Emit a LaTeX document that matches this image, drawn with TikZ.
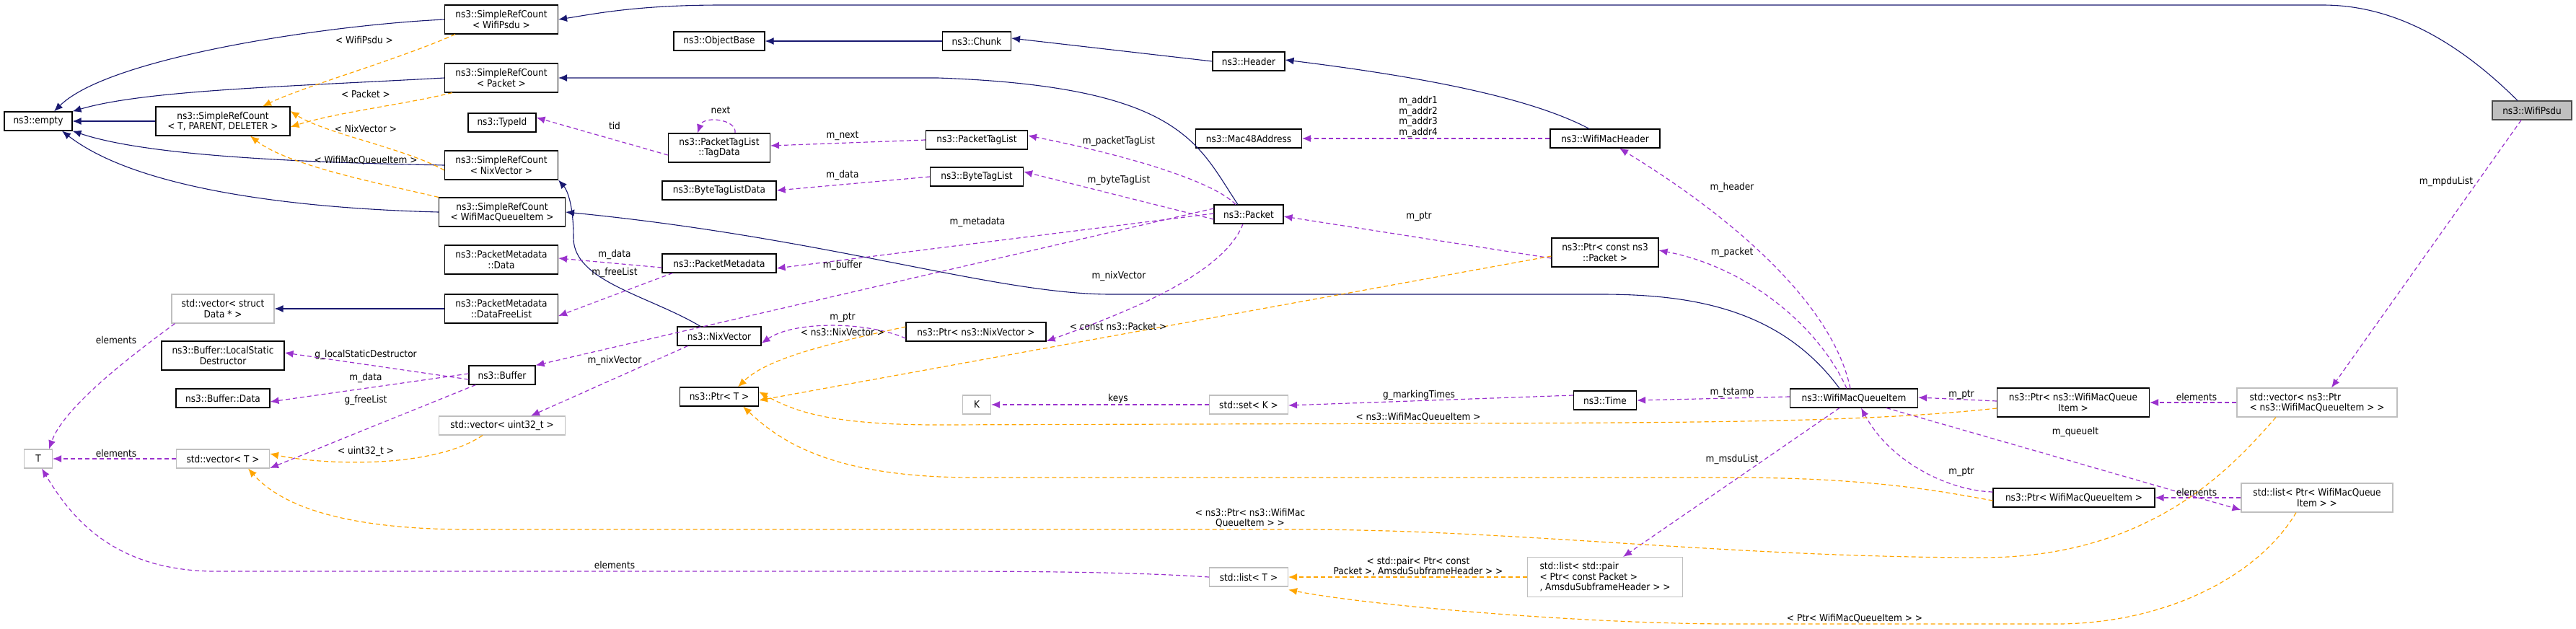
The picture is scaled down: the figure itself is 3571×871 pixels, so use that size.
\documentclass[tikz,border=0pt]{standalone}
\usepackage{fontspec}
\setmainfont{DejaVu Sans Condensed}
\usetikzlibrary{arrows.meta}
\definecolor{navy}{HTML}{191970}
\definecolor{purp}{HTML}{9A32CD}
\definecolor{orng}{HTML}{FFA500}
\definecolor{gbd}{HTML}{BFBFBF}
\newcommand{\nf}{\fontsize{13.5}{14.5}\selectfont}
\tikzset{
 box/.style={draw=black, fill=white, minimum height=26pt, inner sep=1pt, font=\nf, line width=1.1pt, align=center},
 ext/.style={box, draw=gbd},
 two/.style={minimum height=40pt},
 inh/.style={draw=navy, line width=1.1pt, -{Latex[length=12pt,width=10pt]}},
 mem/.style={draw=purp, line width=1.2pt, dash pattern=on 6pt off 4pt, -{Latex[length=12pt,width=10pt]}},
 tpl/.style={draw=orng, line width=1.2pt, dash pattern=on 6pt off 4pt, -{Latex[length=12pt,width=10pt]}},
 lbl/.style={font=\nf, inner sep=0pt, align=center}
}
\begin{document}
\begin{tikzpicture}[x=1pt,y=-1pt]
\useasboundingbox (0,0) rectangle (3571,871);
% nodes
\node[box,minimum width=94] (empty) at (53,168) {ns3::empty};
\node[box,two,minimum width=186] (srcT) at (309,168) {ns3::SimpleRefCount\\< T, PARENT, DELETER >};
\node[box,two,minimum width=157] (srcPsdu) at (695,27) {ns3::SimpleRefCount\\< WifiPsdu >};
\node[box,two,minimum width=157] (srcPkt) at (695,108) {ns3::SimpleRefCount\\< Packet >};
\node[box,minimum width=94] (typeid) at (696,170) {ns3::TypeId};
\node[box,two,minimum width=157] (srcNix) at (695,229) {ns3::SimpleRefCount\\< NixVector >};
\node[box,two,minimum width=175] (srcWmqi) at (696,294) {ns3::SimpleRefCount\\< WifiMacQueueItem >};
\node[box,two,minimum width=157] (pmData) at (695,360) {ns3::PacketMetadata\\::Data};
\node[box,two,minimum width=157] (pmFree) at (695,428) {ns3::PacketMetadata\\::DataFreeList};
\node[ext,two,minimum width=142] (vecData) at (309,428) {std::vector< struct\\Data * >};
\node[box,two,minimum width=170] (lsd) at (309,493) {ns3::Buffer::LocalStatic\\Destructor};
\node[box,minimum width=130] (bufData) at (309,552) {ns3::Buffer::Data};
\node[box,minimum width=92] (buffer) at (696,520) {ns3::Buffer};
\node[ext,minimum width=175] (vecU32) at (696,590) {std::vector< uint32\_t >};
\node[ext,minimum width=39] (T) at (53,636) {T};
\node[ext,minimum width=129] (vecT) at (309,636) {std::vector< T >};
\node[box,minimum width=126] (objbase) at (997,57) {ns3::ObjectBase};
\node[box,minimum width=95] (chunk) at (1354,57) {ns3::Chunk};
\node[box,minimum width=100] (header) at (1731,85) {ns3::Header};
\node[box,two,minimum width=141] (tagdata) at (997,205) {ns3::PacketTagList\\::TagData};
\node[box,minimum width=141] (ptaglist) at (1354,194) {ns3::PacketTagList};
\node[box,minimum width=158] (btldata) at (997,264) {ns3::ByteTagListData};
\node[box,minimum width=129] (btaglist) at (1354,245) {ns3::ByteTagList};
\node[box,minimum width=147] (mac48) at (1731,192) {ns3::Mac48Address};
\node[box,minimum width=96] (packet) at (1731,297) {ns3::Packet};
\node[box,minimum width=158] (pmeta) at (997,365) {ns3::PacketMetadata};
\node[box,minimum width=116] (nixvec) at (997,466) {ns3::NixVector};
\node[box,minimum width=194] (ptrNix) at (1353,460) {ns3::Ptr< ns3::NixVector >};
\node[box,minimum width=109] (ptrT) at (997,550) {ns3::Ptr< T >};
\node[ext,minimum width=39] (K) at (1354,561) {K};
\node[ext,minimum width=109] (setK) at (1731,561) {std::set< K >};
\node[ext,minimum width=109] (listT) at (1731,800) {std::list< T >};
\node[box,minimum width=152] (wmh) at (2225,192) {ns3::WifiMacHeader};
\node[box,two,minimum width=148] (ptrCPkt) at (2225,350) {ns3::Ptr< const ns3\\::Packet >};
\node[box,minimum width=87] (time) at (2225,555) {ns3::Time};
\node[box,minimum width=177] (wmqi) at (2570,552) {ns3::WifiMacQueueItem};
\node[box,two,minimum width=211] (ptrNsW) at (2874,558) {ns3::Ptr< ns3::WifiMacQueue\\Item >};
\node[box,minimum width=224] (ptrW) at (2875,690) {ns3::Ptr< WifiMacQueueItem >};
\node[ext,two,minimum width=222,align=left] (vecPtr) at (3212,558) {std::vector< ns3::Ptr\\< ns3::WifiMacQueueItem > >};
\node[ext,two,minimum width=210] (listPtr) at (3212,690) {std::list< Ptr< WifiMacQueue\\Item > >};
\node[ext,minimum height=55,minimum width=215,align=left] (pair) at (2225,800) {std::list< std::pair\\< Ptr< const Packet >\\, AmsduSubframeHeader > >};
\node[box,minimum width=110,fill=gbd,draw=black!70] (psdu) at (3510,153) {ns3::WifiPsdu};
% inheritance
\draw[inh] (srcPsdu.west) .. controls (450,35) and (150,80) .. ([xshift=22]empty.north);
\draw[inh] (srcPkt.west) .. controls (400,120) and (200,125) .. (empty.north east);
\draw[inh] (srcT.west) -- (empty.east);
\draw[inh] (srcNix.west) .. controls (400,225) and (200,215) .. (empty.south east);
\draw[inh] (srcWmqi.west) .. controls (450,290) and (200,270) .. ([xshift=33]empty.south);
\draw[inh] (pmFree.west) -- (vecData.east);
\draw[inh] (chunk.west) -- (objbase.east);
\draw[inh] (header.west) -- ([yshift=4]chunk.east);
\draw[inh] ([xshift=-22]wmh.north) .. controls (2130,140) and (2000,110) .. ([yshift=2]header.east);
\draw[inh] ([xshift=-20]psdu.north) .. controls (3390,40) and (3300,7) .. (3220,7) -- (1000,7) .. controls (880,7) and (820,20) .. (srcPsdu.east);
\draw[inh] ([xshift=-15]packet.north) .. controls (1660,200) and (1640,120) .. (1300,108) -- (srcPkt.east);
\draw[inh] ([xshift=-26]nixvec.north) .. controls (900,410) and (795,390) .. (795,330) .. controls (795,280) and (785,262) .. (srcNix.south east);
\draw[inh] ([xshift=-20]wmqi.north) .. controls (2470,430) and (2350,408) .. (2220,408) -- (1540,408) .. controls (1380,408) and (1150,330) .. (srcWmqi.east);
% members
\draw[mem] ([yshift=-10]tagdata.west) -- ([yshift=7]typeid.east);
\draw[mem] ([xshift=22]tagdata.north) .. controls (1022,165) and (975,160) .. ([xshift=-30]tagdata.north);
\draw[mem] (ptaglist.west) -- ([yshift=3]tagdata.east);
\draw[mem] (btaglist.west) -- (btldata.east);
\draw[mem] ([xshift=-18]packet.north) .. controls (1680,250) and (1560,215) .. ([yshift=6]ptaglist.east);
\draw[mem] ([yshift=-7]packet.west) -- ([yshift=7]btaglist.east);
\draw[mem] ([yshift=1]packet.west) -- ([yshift=-7]pmeta.east);
\draw[mem] ([yshift=8]packet.west) -- (buffer.north east);
\draw[mem] ([xshift=-8]packet.south) .. controls (1700,370) and (1600,420) .. ([yshift=-13]ptrNix.east);
\draw[mem] ([yshift=-6]pmeta.west) -- ([yshift=2]pmData.east);
\draw[mem] ([xshift=15]pmeta.south west) -- ([yshift=-10]pmFree.east);
\draw[mem] ([xshift=5]vecData.south west) .. controls (200,480) and (90,560) .. ([xshift=15]T.north);
\draw[mem] ([yshift=-6]buffer.west) -- ([yshift=4]lsd.east);
\draw[mem] ([yshift=2]buffer.west) -- ([yshift=-5]bufData.east);
\draw[mem] ([xshift=10]buffer.south west) -- ([yshift=-13]vecT.east);
\draw[mem] (vecT.west) -- (T.east);
\draw[mem] ([xshift=15]nixvec.south west) -- ([xshift=40]vecU32.north);
\draw[mem] ([yshift=-9]ptrNix.west) .. controls (1200,445) and (1100,445) .. ([yshift=-10]nixvec.east);
\draw[mem] (setK.west) -- (K.east);
\draw[mem] ([yshift=7]time.west) -- ([yshift=-1]setK.east);
\draw[mem] ([yshift=2]wmqi.west) -- (time.east);
\draw[mem] ([xshift=-10]wmqi.north) .. controls (2520,450) and (2420,370) .. ([yshift=3]ptrCPkt.east);
\draw[mem] ([xshift=-5]wmqi.north) .. controls (2540,420) and (2400,300) .. ([xshift=20]wmh.south);
\draw[mem] ([yshift=-8]ptrCPkt.west) -- ([yshift=-3]packet.east);
\draw[mem] (wmh.west) -- (mac48.east);
\draw[mem] ([yshift=2]ptrNsW.west) -- ([yshift=1]wmqi.east);
\draw[mem] ([yshift=8]ptrW.west) .. controls (2700,680) and (2620,640) .. ([xshift=10]wmqi.south);
\draw[mem] ([xshift=45]wmqi.south) -- ([yshift=-17]listPtr.west);
\draw[mem] ([xshift=-20]wmqi.south) -- ([xshift=25]pair.north);
\draw[mem] (vecPtr.west) -- (ptrNsW.east);
\draw[mem] (listPtr.west) -- (ptrW.east);
\draw[mem] ([xshift=-15]psdu.south) -- ([xshift=20]vecPtr.north);
\draw[mem] (listT.west) .. controls (1600,795) and (1500,792) .. (1300,792) -- (300,792) .. controls (160,792) and (100,720) .. ([xshift=5]T.south);
% templates
\draw[tpl] ([xshift=15]srcPsdu.south west) .. controls (560,80) and (420,120) .. ([xshift=55]srcT.north);
\draw[tpl] ([xshift=11]srcPkt.south west) .. controls (560,145) and (470,155) .. ([yshift=-8]srcT.east);
\draw[tpl] ([yshift=-7]srcNix.west) .. controls (560,205) and (450,185) .. ([yshift=14]srcT.east);
\draw[tpl] ([xshift=0]srcWmqi.north west) .. controls (530,255) and (400,230) .. ([xshift=38]srcT.south);
\draw[tpl] ([xshift=-27]vecU32.south) .. controls (600,650) and (450,645) .. ([yshift=7]vecT.east);
\draw[tpl] ([yshift=7]ptrNix.west) .. controls (1130,480) and (1060,500) .. ([xshift=26]ptrT.north);
\draw[tpl] ([yshift=-5]ptrCPkt.west) -- ([yshift=-5]ptrT.east);
\draw[tpl] ([yshift=-8]ptrNsW.west) .. controls (2600,584) and (2400,586) .. (2000,587) -- (1300,589) .. controls (1150,589) and (1100,570) .. ([yshift=7]ptrT.east);
\draw[tpl] ([yshift=-4]ptrW.west) .. controls (2700,683) and (2600,662) .. (2400,662) -- (1350,662) .. controls (1150,662) and (1080,610) .. ([xshift=33]ptrT.south);
\draw[tpl] ([xshift=-57]vecPtr.south) .. controls (3100,640) and (2990,772) .. (2750,773) .. controls (2400,773) and (2100,734) .. (1800,734) -- (650,734) .. controls (450,734) and (380,690) .. ([xshift=35]vecT.south);
\draw[tpl] ([xshift=-29]listPtr.south) .. controls (3130,800) and (3000,865) .. (2850,865) -- (2400,865) .. controls (2200,865) and (1900,840) .. ([yshift=-4]listT.south east);
\draw[tpl] (pair.west) -- (listT.east);
% labels
\node[lbl] (l1) at (505,55) {< WifiPsdu >};
\node[lbl] (l2) at (507,130) {< Packet >};
\node[lbl] (l3) at (507,178) {< NixVector >};
\node[lbl] (l4) at (507,222) {< WifiMacQueueItem >};
\node[lbl] (l5) at (852,174) {tid};
\node[lbl] (l6) at (852,353) {m\_data};
\node[lbl] (l7) at (852,378) {m\_freeList};
\node[lbl] (l8) at (161,471) {elements};
\node[lbl] (l9) at (507,492) {g\_localStaticDestructor};
\node[lbl] (l10) at (507,524) {m\_data};
\node[lbl] (l11) at (507,555) {g\_freeList};
\node[lbl] (l12) at (852,500) {m\_nixVector};
\node[lbl] (l13) at (161,628) {elements};
\node[lbl] (l14) at (507,626) {< uint32\_t >};
\node[lbl] (l15) at (852,783) {elements};
\node[lbl] (l16) at (999,153) {next};
\node[lbl] (l17) at (1168,188) {m\_next};
\node[lbl] (l18) at (1168,243) {m\_data};
\node[lbl] (l19) at (1551,196) {m\_packetTagList};
\node[lbl] (l20) at (1551,250) {m\_byteTagList};
\node[lbl] (l21) at (1355,308) {m\_metadata};
\node[lbl] (l22) at (1168,368) {m\_buffer};
\node[lbl] (l23) at (1551,383) {m\_nixVector};
\node[lbl] (l24) at (1168,440) {m\_ptr};
\node[lbl] (l25) at (1168,460) {< ns3::NixVector >};
\node[lbl] (l26) at (1550,452) {< const ns3::Packet >};
\node[lbl] (l27) at (1550,553) {keys};
\node[lbl] (l28) at (1733,718) {< ns3::Ptr< ns3::WifiMac\\QueueItem > >};
\node[lbl] (l29) at (1966,162) {m\_addr1\\m\_addr2\\m\_addr3\\m\_addr4};
\node[lbl] (l30) at (2401,260) {m\_header};
\node[lbl] (l31) at (1967,300) {m\_ptr};
\node[lbl] (l32) at (2401,350) {m\_packet};
\node[lbl] (l33) at (1967,548) {g\_markingTimes};
\node[lbl] (l34) at (2401,544) {m\_tstamp};
\node[lbl] (l35) at (1966,578) {< ns3::WifiMacQueueItem >};
\node[lbl] (l36) at (2401,637) {m\_msduList};
\node[lbl] (l37) at (2719,547) {m\_ptr};
\node[lbl] (l38) at (3045,550) {elements};
\node[lbl] (l39) at (2877,599) {m\_queueIt};
\node[lbl] (l40) at (2719,654) {m\_ptr};
\node[lbl] (l41) at (3045,682) {elements};
\node[lbl] (l42) at (1966,785) {< std::pair< Ptr< const\\Packet >, AmsduSubframeHeader > >};
\node[lbl] (l43) at (2571,857) {< Ptr< WifiMacQueueItem > >};
\node[lbl] (l44) at (3391,252) {m\_mpduList};
\end{tikzpicture}
\end{document}
